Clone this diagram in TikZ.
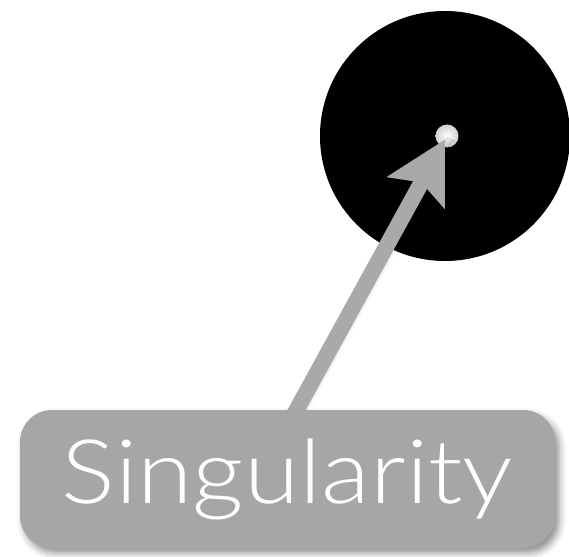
\documentclass[tikz,border=0pt]{standalone}
\usepackage{fontspec}
\newfontfamily\labfont{Lato Light}[FakeStretch=1.13]
\usetikzlibrary{arrows.meta,shadows.blur}
\definecolor{arrowgray}{HTML}{A9A9A9}
\definecolor{boxgray}{HTML}{A6A6A6}
\tikzset{
  hole/.style={circle,fill=black,minimum size=250pt,inner sep=0pt},
  singdot/.style={circle,minimum size=23pt,inner sep=0pt,inner color=white,outer color=black!18},
  pointer/.style={draw=arrowgray,line width=16pt,shorten >=4pt,
    -{Stealth[length=60pt,width=64pt,inset=11pt,fill=arrowgray]},
    blur shadow={shadow xshift=5pt,shadow yshift=-4pt,shadow blur radius=5pt,shadow opacity=25}},
  labelbox/.style={rounded corners=32pt,fill=boxgray,minimum width=535pt,minimum height=138pt,
    text=white,font=\labfont\fontsize{89pt}{89pt}\selectfont,
    blur shadow={shadow xshift=4pt,shadow yshift=-5pt,shadow blur radius=7pt,shadow opacity=45}}
}
\begin{document}
\begin{tikzpicture}[x=1pt,y=-1pt]
\useasboundingbox (0,0) rectangle (569,556);
\node[hole] (bh) at (445,136) {};
\node[singdot] (sing) at (447,136) {};
\coordinate (tail) at (280,440);
\draw[pointer] (tail) -- (sing.center);
\node[labelbox] (label) at (287.5,479) {Singularity};
\end{tikzpicture}
\end{document}
